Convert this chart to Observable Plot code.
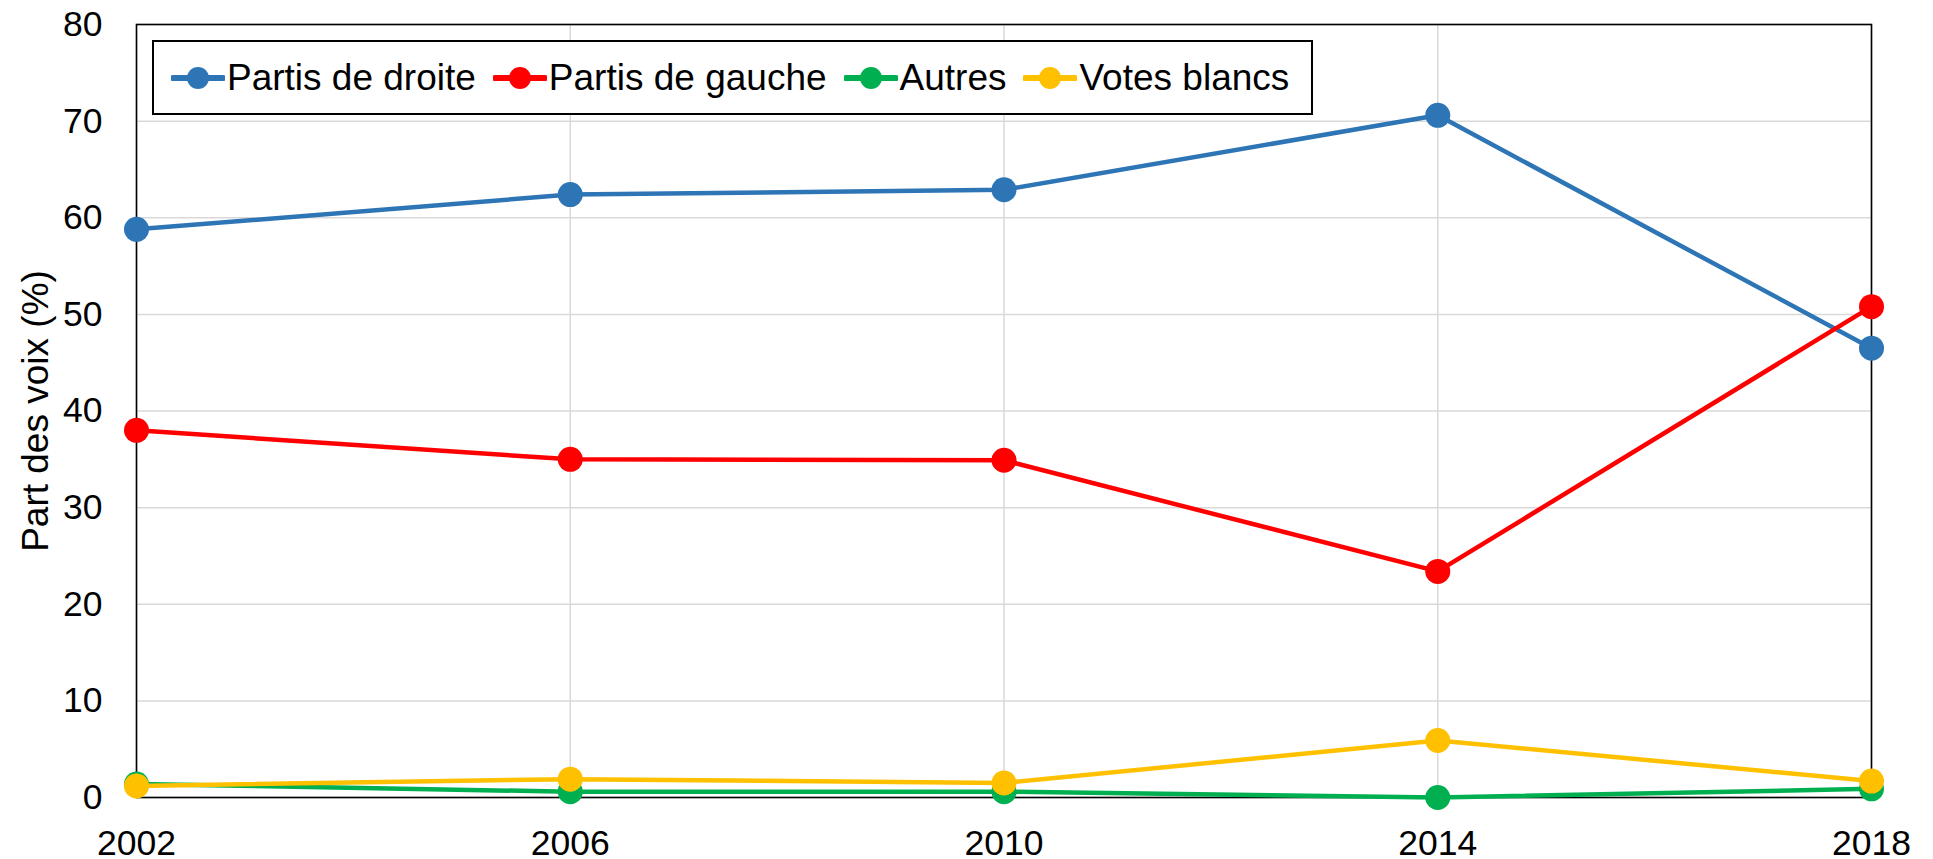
<!DOCTYPE html>
<html>
<head>
<meta charset="utf-8">
<script src="https://cdn.jsdelivr.net/npm/d3@7"></script>
<script src="https://cdn.jsdelivr.net/npm/@observablehq/plot@0.6"></script>
<style>
  html, body { margin: 0; padding: 0; background: #fff; }
  #wrap { position: relative; width: 1933px; height: 859px; font-family: "Liberation Sans", Arial, sans-serif; }
  #legend { position: absolute; left: 152px; top: 40px; width: 1140px; height: 71px; border: 2px solid #000; background: #fff;
            display: flex; align-items: center; box-sizing: content-box; padding-left: 17px; font-size: 37px; color: #000; }
  .item { display: flex; align-items: center; margin-right: 17px; white-space: nowrap; }
  .item svg { margin-right: 2px; }
</style>
</head>
<body>
<div id="wrap"></div>
<script>
const years = [2002, 2006, 2010, 2014, 2018];
const seriesNames = ["Partis de droite", "Partis de gauche", "Autres", "Votes blancs"];
const seriesColors = ["#2E75B6", "#FF0000", "#00B050", "#FFC000"];
const droite = [58.8, 62.4, 62.9, 70.6, 46.5];
const gauche = [38.0, 35.0, 34.9, 23.4, 50.8];
const autres = [1.4, 0.6, 0.6, 0.0, 0.9];
const blancs = [1.2, 1.9, 1.5, 5.9, 1.7];
const yTicks = [0, 10, 20, 30, 40, 50, 60, 70, 80];
const yLabel = "Part des voix (%)";

const values = [droite, gauche, autres, blancs];
const rows = [];
seriesNames.forEach((s, k) => years.forEach((yr, i) => rows.push({series: s, year: yr, value: values[k][i]})));

const font = '"Liberation Sans", Arial, sans-serif';
const marks = [
  Plot.gridY(yTicks, {stroke: "#d9d9d9", strokeOpacity: 1, strokeWidth: 1.5}),
  Plot.gridX(years, {stroke: "#d9d9d9", strokeOpacity: 1, strokeWidth: 1.5}),
  Plot.frame({stroke: "#000", strokeWidth: 1.6}),
  Plot.axisY({ticks: yTicks, tickSize: 0, tickPadding: 34, fontSize: 35.5, label: null}),
  Plot.axisX({ticks: years, tickSize: 0, tickPadding: 32, fontSize: 35.5, label: null, tickFormat: d => String(d)}),
  Plot.text([yLabel], {frameAnchor: "left", dx: -100, rotate: -90, textAnchor: "middle", lineAnchor: "middle", fontSize: 37, fill: "#000"})
];
seriesNames.forEach((s, k) => {
  const data = rows.filter(r => r.series === s);
  marks.push(Plot.line(data, {x: "year", y: "value", stroke: seriesColors[k], strokeWidth: 4.5}));
  marks.push(Plot.dot(data, {x: "year", y: "value", r: 12.5, fill: seriesColors[k], stroke: "none"}));
});

const chart = Plot.plot({
  width: 1933,
  height: 859,
  marginLeft: 136,
  marginRight: 62,
  marginTop: 24,
  marginBottom: 62,
  style: {fontFamily: font, fontSize: "35px", color: "#000", background: "#fff", overflow: "visible"},
  x: {type: "linear", domain: [2002, 2018]},
  y: {domain: [0, 80]},
  marks
});
const wrap = document.getElementById("wrap");
wrap.appendChild(chart);

const legend = document.createElement("div");
legend.id = "legend";
seriesNames.forEach((s, k) => {
  const it = document.createElement("div");
  it.className = "item";
  it.innerHTML = `<svg width="54" height="26"><line x1="2" x2="52" y1="13" y2="13" stroke="${seriesColors[k]}" stroke-width="6" stroke-linecap="round"/><circle cx="27" cy="13" r="11" fill="${seriesColors[k]}"/></svg><span>${s}</span>`;
  legend.appendChild(it);
});
wrap.appendChild(legend);
</script>
</body>
</html>
